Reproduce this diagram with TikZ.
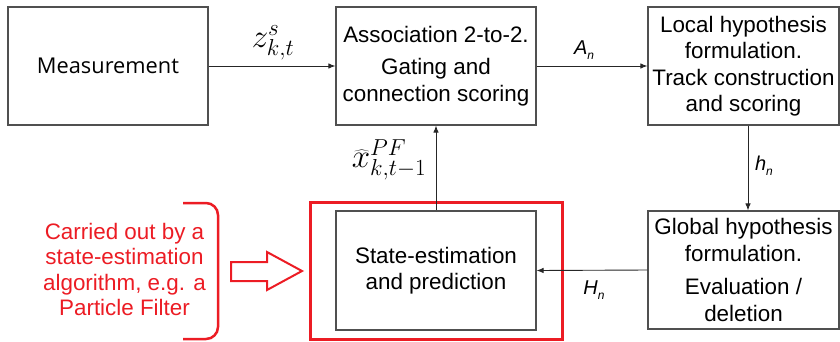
\RequirePackage{fix-cm}
\documentclass[tikz,border=0pt]{standalone}
\usepackage{fontspec}
\setmainfont{Liberation Sans}
\newfontfamily\measfont{Open Sans}
\usetikzlibrary{arrows.meta}
\definecolor{boxgray}{HTML}{505050}
\definecolor{hlred}{HTML}{EC1C24}
\tikzset{
  blk/.style={draw=boxgray, line width=1.2pt, align=center, inner sep=0pt,
    font=\fontsize{22.4}{26.5}\selectfont},
  arr/.style={-{Latex[length=7pt,width=5.5pt]}, line width=0.9pt, draw=black!85},
  hl/.style={draw=hlred, line width=3pt},
  lbl/.style={inner sep=0pt}
}
\newcommand{\mathlbl}[1]{{\fontsize{33}{36}\selectfont$#1$}}
\newcommand{\sublbl}[2]{{\fontsize{20}{20}\selectfont\itshape #1\raisebox{-5pt}{\fontsize{12}{12}\selectfont #2}}}
\begin{document}
\begin{tikzpicture}[x=1pt,y=-1pt]
\useasboundingbox (0,0) rectangle (840,341);
% boxes
\node[blk, minimum width=200, minimum height=118] (meas) at (108,66)
  {\measfont\fontsize{21.8}{24}\selectfont Measurement};
\node[blk, minimum width=200, minimum height=118] (assoc) at (436,66)
  {Association 2-to-2.\\[6pt] Gating and\\ connection scoring};
\node[blk, minimum width=191, minimum height=118] (local) at (743.5,66)
  {Local hypothesis\\ formulation.\\ Track construction\\ and scoring};
\node[blk, minimum width=191, minimum height=118] (global) at (743.5,270)
  {Global hypothesis\\ formulation.\\[7pt] Evaluation /\\ deletion};
\node[blk, minimum width=200, minimum height=119] (state) at (436,270.5)
  {State-estimation\\ and prediction};
% highlight
\node[hl, minimum width=252, minimum height=137, inner sep=0pt] (hlbox) at (436,270.5) {};
% connectors
\draw[arr] (meas) -- (assoc);
\draw[arr] (assoc) -- (local);
\draw[arr] ([xshift=4.5pt]local.south) -- ([xshift=4.5pt]global.north);
\draw[arr] (global.west) -- (state.east);
\draw[arr] (state.north) -- (assoc.south);
% labels
\node[lbl] (lz) at (273,43) {\mathlbl{z^{s}_{k,t}}};
\node[lbl] (la) at (584,50) {\sublbl{A}{n}};
\node[lbl] (lh) at (764,166) {\sublbl{h}{n}};
\node[lbl] (lx) at (389,160) {\mathlbl{\widehat{x}^{PF}_{k,t-1}}};
\node[lbl] (lH) at (594,290) {\sublbl{H}{n}};
% red annotation
\node[text=hlred, align=center, inner sep=0pt, font=\fontsize{22.4}{25.4}\selectfont] (note) at (124.5,269.5)
  {Carried out by a\\ state-estimation\\ algorithm, e.g. a\\ Particle Filter};
\draw[draw=hlred, line width=2.5pt, rounded corners=12pt] (183,203) -| (218,339) -- (183,339);
\draw[draw=hlred, line width=2pt] (231,262) -- (267,262) -- (267,252) -- (302,271) -- (267,290) -- (267,281) -- (231,281) -- cycle;
\end{tikzpicture}
\end{document}
